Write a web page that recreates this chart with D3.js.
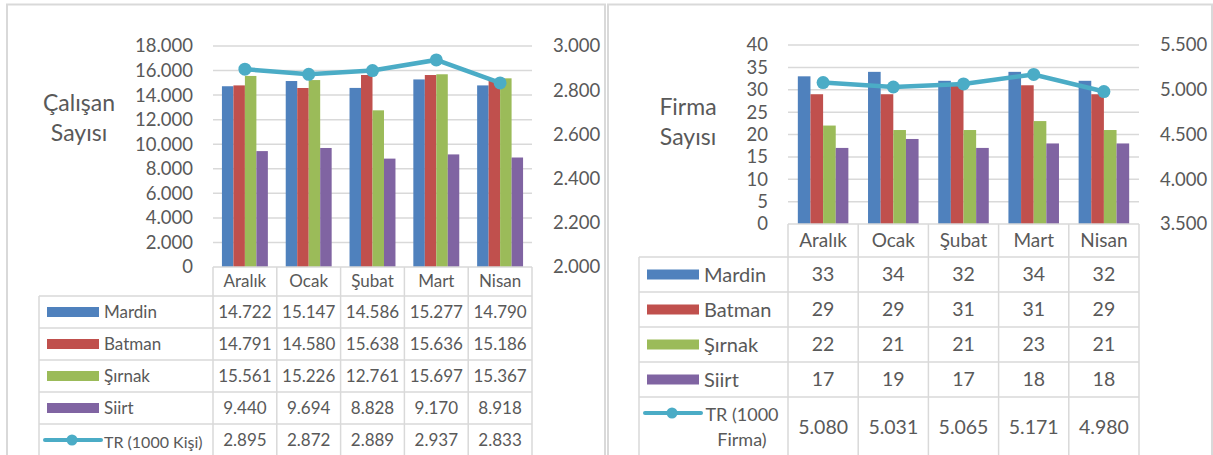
<!DOCTYPE html>
<html>
<head>
<meta charset="utf-8">
<script src="https://cdn.jsdelivr.net/npm/d3@7"></script>
<style>
  body { margin: 0; background: #fff; }
  svg { display: block; }
  text { font-family: Lato, "Open Sans", sans-serif; fill: #595959; }
</style>
</head>
<body>
<div id="chart"></div>
<script>
// months on the x axis
const months = ["Aralık", "Ocak", "Şubat", "Mart", "Nisan"];
const seriesNames = ["Mardin", "Batman", "Şırnak", "Siirt"];

// employees (Çalışan Sayısı)
const empMardin = [14722, 15147, 14586, 15277, 14790];
const empBatman = [14791, 14580, 15638, 15636, 15186];
const empSirnak = [15561, 15226, 12761, 15697, 15367];
const empSiirt  = [9440, 9694, 8828, 9170, 8918];
const empTR     = [2895, 2872, 2889, 2937, 2833];

// firms (Firma Sayısı)
const firmMardin = [33, 34, 32, 34, 32];
const firmBatman = [29, 29, 31, 31, 29];
const firmSirnak = [22, 21, 21, 23, 21];
const firmSiirt  = [17, 19, 17, 18, 18];
const firmTR     = [5080, 5031, 5065, 5171, 4980];

// tick values
const empLeftTicks  = [0, 2000, 4000, 6000, 8000, 10000, 12000, 14000, 16000, 18000];
const empRightTicks = [2000, 2200, 2400, 2600, 2800, 3000];
const firmLeftTicks  = [0, 5, 10, 15, 20, 25, 30, 35, 40];
const firmRightTicks = [3500, 4000, 4500, 5000, 5500];

const colors = ["#4F81BD", "#C0504D", "#9BBB59", "#8064A2"];
const lineColor = "#4BACC6";
const gridColor = "#d9d9d9";

const fmt = d3.formatLocale({decimal: ",", thousands: ".", grouping: [3], currency: ["", "₺"]}).format(",d");

const svg = d3.select("#chart").append("svg")
    .attr("width", 1213)
    .attr("height", 455);

// outer frames of the two panels
svg.append("rect").attr("x", 7).attr("y", 4.5).attr("width", 598).attr("height", 470)
    .attr("fill", "none").attr("stroke", gridColor).attr("stroke-width", 2);
svg.append("rect").attr("x", 608).attr("y", 4.5).attr("width", 604).attr("height", 470)
    .attr("fill", "none").attr("stroke", gridColor).attr("stroke-width", 2);

function drawPanel(p) {
    const g = svg.append("g");

    const x0 = d3.scaleBand().domain(months).range([p.left, p.right]).padding(0);
    const groupW = x0.bandwidth() * 0.72;
    const x1 = d3.scaleBand().domain(seriesNames).range([0, groupW]);

    const yL = d3.scaleLinear().domain([p.leftTicks[0], p.leftTicks[p.leftTicks.length - 1]]).range([p.base, p.top]);
    const yR = d3.scaleLinear().domain([p.rightTicks[0], p.rightTicks[p.rightTicks.length - 1]]).range([p.base, p.top]);

    // gridlines
    g.selectAll(".grid").data(p.leftTicks.slice(1)).enter().append("line")
        .attr("x1", p.left).attr("x2", p.right)
        .attr("y1", d => yL(d)).attr("y2", d => yL(d))
        .attr("stroke", gridColor).attr("stroke-width", 1.5);

    // left axis labels
    g.selectAll(".yl").data(p.leftTicks).enter().append("text")
        .attr("x", p.left - 20).attr("y", d => yL(d)).attr("dy", "0.35em")
        .attr("text-anchor", "end").style("font-size", "18.5px")
        .text(d => fmt(d));

    // right axis labels
    g.selectAll(".yr").data(p.rightTicks).enter().append("text")
        .attr("x", p.right + 21).attr("y", d => yR(d)).attr("dy", "0.35em")
        .attr("text-anchor", "start").style("font-size", "18.5px")
        .text(d => fmt(d));

    // axis title
    const t = g.append("text").attr("text-anchor", "middle").style("font-size", "23px");
    p.title.forEach((line, i) => {
        t.append("tspan").attr("x", p.titleX).attr("y", p.titleY + i * 30).attr("dy", "0.35em").text(line);
    });

    // bars
    const groups = g.selectAll(".grp").data(months).enter().append("g")
        .attr("transform", d => "translate(" + (x0(d) + (x0.bandwidth() - groupW) / 2) + ",0)");
    groups.selectAll("rect")
        .data((m, i) => p.series.map((s, k) => ({name: seriesNames[k], v: s[i], k: k})))
        .enter().append("rect")
        .attr("x", d => x1(d.name))
        .attr("width", x1.bandwidth())
        .attr("y", d => yL(d.v))
        .attr("height", d => p.base - yL(d.v))
        .attr("fill", d => colors[d.k]);

    // TR line
    const line = d3.line()
        .x((d, i) => x0(months[i]) + x0.bandwidth() / 2)
        .y(d => yR(d));
    g.append("path").datum(p.tr).attr("d", line)
        .attr("fill", "none").attr("stroke", lineColor).attr("stroke-width", 4.5);
    g.selectAll(".pt").data(p.tr).enter().append("circle")
        .attr("cx", (d, i) => x0(months[i]) + x0.bandwidth() / 2)
        .attr("cy", d => yR(d))
        .attr("r", 6.5).attr("fill", lineColor);

    // data table
    const bottom = 470;
    const rowTops = [0, 1, 2, 3, 4].map(i => p.headTop + i * p.rowH);
    // axis line / header top
    g.append("line").attr("x1", p.left).attr("x2", p.right).attr("y1", p.base).attr("y2", p.base)
        .attr("stroke", gridColor).attr("stroke-width", 1.5);
    // vertical lines of the month columns
    g.selectAll(".vcol").data(months.concat(["end"])).enter().append("line")
        .attr("x1", (d, i) => i < months.length ? x0(d) : p.right)
        .attr("x2", (d, i) => i < months.length ? x0(d) : p.right)
        .attr("y1", p.base).attr("y2", bottom)
        .attr("stroke", gridColor).attr("stroke-width", 1.5);
    g.append("line").attr("x1", p.legendX).attr("x2", p.legendX).attr("y1", p.headTop).attr("y2", bottom)
        .attr("stroke", gridColor).attr("stroke-width", 1.5);
    g.selectAll(".hrow").data(rowTops).enter().append("line")
        .attr("x1", p.legendX).attr("x2", p.right)
        .attr("y1", d => d).attr("y2", d => d)
        .attr("stroke", gridColor).attr("stroke-width", 1.5);

    // header month names
    g.selectAll(".mh").data(months).enter().append("text")
        .attr("x", d => x0(d) + x0.bandwidth() / 2)
        .attr("y", (p.base + p.headTop) / 2).attr("dy", "0.35em")
        .attr("text-anchor", "middle").style("font-size", p.headSize + "px")
        .text(d => d);

    const rows = p.series.concat([p.tr]);
    rows.forEach((vals, r) => {
        const cy = r < 4 ? rowTops[r] + p.rowH / 2 : rowTops[r] + p.lastCenter;
        g.selectAll(".v" + r).data(vals).enter().append("text")
            .attr("x", (d, i) => x0(months[i]) + x0.bandwidth() / 2)
            .attr("y", cy).attr("dy", "0.35em")
            .attr("text-anchor", "middle").style("font-size", p.valSize + "px")
            .text(d => fmt(d));
        if (r < 4) {
            g.append("rect").attr("x", p.legendX + 8).attr("y", cy - 5)
                .attr("width", 52).attr("height", 10).attr("fill", colors[r]);
            g.append("text").attr("x", p.legendX + 65).attr("y", cy).attr("dy", "0.35em")
                .style("font-size", p.legSize + "px").text(seriesNames[r]);
        } else {
            const ly = rowTops[r] + p.lineLegendY;
            g.append("line").attr("x1", p.legendX + 6).attr("x2", p.legendX + 62)
                .attr("y1", ly).attr("y2", ly)
                .attr("stroke", lineColor).attr("stroke-width", 4).attr("stroke-linecap", "round");
            g.append("circle").attr("cx", p.legendX + 33).attr("cy", ly).attr("r", 5.5).attr("fill", lineColor);
            const lt = g.append("text").style("font-size", p.trSize + "px")
                .attr("text-anchor", p.trLabel.length > 1 ? "middle" : "start");
            p.trLabel.forEach((s, i) => {
                lt.append("tspan")
                    .attr("x", p.trLabel.length > 1 ? p.legendX + 103 : p.legendX + 65)
                    .attr("y", ly + 2 + i * 25).attr("dy", "0.35em").text(s);
            });
        }
    });
}

drawPanel({
    left: 213, right: 532, top: 46, base: 267,
    leftTicks: empLeftTicks, rightTicks: empRightTicks,
    title: ["Çalışan", "Sayısı"], titleX: 79, titleY: 103,
    series: [empMardin, empBatman, empSirnak, empSiirt], tr: empTR,
    legendX: 39, headTop: 296, rowH: 32, lastCenter: 16, lineLegendY: 16,
    headSize: 17, valSize: 17, legSize: 17, trSize: 16,
    trLabel: ["TR (1000 Kişi)"]
});

drawPanel({
    left: 788, right: 1139, top: 45, base: 224,
    leftTicks: firmLeftTicks, rightTicks: firmRightTicks,
    title: ["Firma", "Sayısı"], titleX: 688, titleY: 107,
    series: [firmMardin, firmBatman, firmSirnak, firmSiirt], tr: firmTR,
    legendX: 639, headTop: 257, rowH: 35, lastCenter: 30, lineLegendY: 16,
    headSize: 19, valSize: 19.5, legSize: 20, trSize: 18,
    trLabel: ["TR (1000", "Firma)"]
});
</script>
</body>
</html>
